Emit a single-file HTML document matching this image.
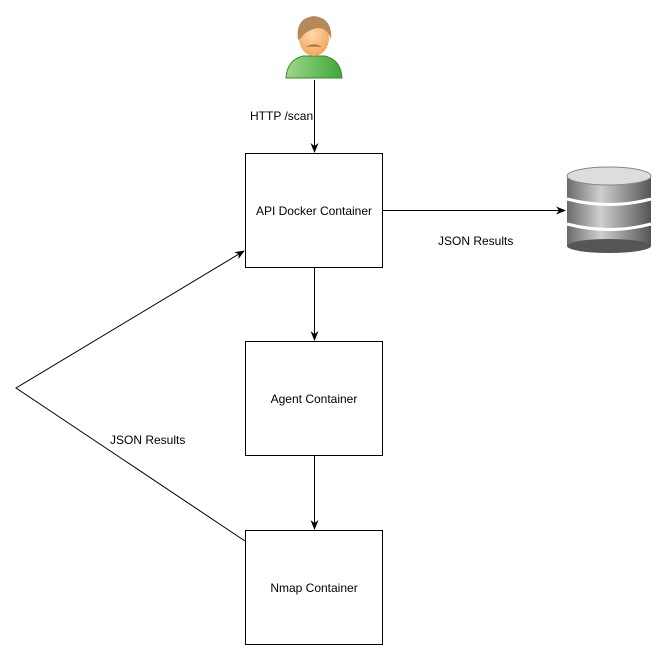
<!DOCTYPE html>
<html><head><style>body{margin:0;background:#fff}svg{display:block}text{font-family:"Liberation Sans",sans-serif;font-size:12px;fill:#000}</style></head><body>
<svg width="666" height="660" viewBox="0 0 666 660">
<defs>
<marker id="a" markerWidth="10" markerHeight="10" refX="9" refY="5" orient="auto" markerUnits="userSpaceOnUse"><path d="M0,1 L10,5 L0,9 L3,5 Z" fill="#000"/></marker>
<linearGradient id="g" x1="0" x2="1"><stop offset="0" stop-color="#9fd88a"/><stop offset="1" stop-color="#3fa53a"/></linearGradient>
<linearGradient id="s" x1="0" x2="1"><stop offset="0" stop-color="#6a6a6a"/><stop offset="0.4" stop-color="#cfcfcf"/><stop offset="1" stop-color="#555"/></linearGradient>
<radialGradient id="f" cx="0.45" cy="0.4" r="0.6"><stop offset="0" stop-color="#ffd9a8"/><stop offset="1" stop-color="#f3a760"/></radialGradient>
</defs>
<!-- user -->
<path d="M286,78 Q287,60 303,56 L325,56 Q341,60 342,78 Z" fill="url(#g)" stroke="#3a8a30" stroke-width="1"/>
<ellipse cx="314" cy="38" rx="15" ry="18" fill="url(#f)"/>
<path d="M298,40 Q295,18 314,16 Q333,18 331,40 Q328,28 318,28 Q306,30 301,38 Z" fill="#b5895a"/>
<path d="M306,47 Q314,42 322,47 Q314,46 306,47Z" fill="#a06a40"/>
<!-- db -->
<rect x="567" y="176" width="84" height="70" fill="url(#s)"/>
<ellipse cx="609" cy="246" rx="42" ry="7" fill="#555"/>
<ellipse cx="609" cy="176" rx="42" ry="9" fill="#ddd" stroke="#888"/>
<path d="M567,199 Q609,210 651,199 M567,224 Q609,235 651,224" stroke="#fff" stroke-width="3" fill="none"/>
<g fill="none" stroke="#000" stroke-width="1">
<rect x="245.5" y="153.5" width="137" height="114"/>
<rect x="245.5" y="341.5" width="137" height="114"/>
<rect x="245.5" y="530.5" width="137" height="114"/>
<line x1="314.5" y1="80" x2="314.5" y2="152" marker-end="url(#a)"/>
<line x1="314.5" y1="267" x2="314.5" y2="340" marker-end="url(#a)"/>
<line x1="314.5" y1="455" x2="314.5" y2="529" marker-end="url(#a)"/>
<line x1="382" y1="210.5" x2="565" y2="210.5" marker-end="url(#a)"/>
<polyline points="245,541 16,388 244,251" marker-end="url(#a)"/>
</g>
<text x="250" y="120">HTTP /scan</text>
<text x="314" y="215" text-anchor="middle">API Docker Container</text>
<text x="314" y="403" text-anchor="middle">Agent Container</text>
<text x="314" y="592" text-anchor="middle">Nmap Container</text>
<text x="438" y="245">JSON Results</text>
<text x="110" y="444">JSON Results</text>
</svg>
</body></html>
